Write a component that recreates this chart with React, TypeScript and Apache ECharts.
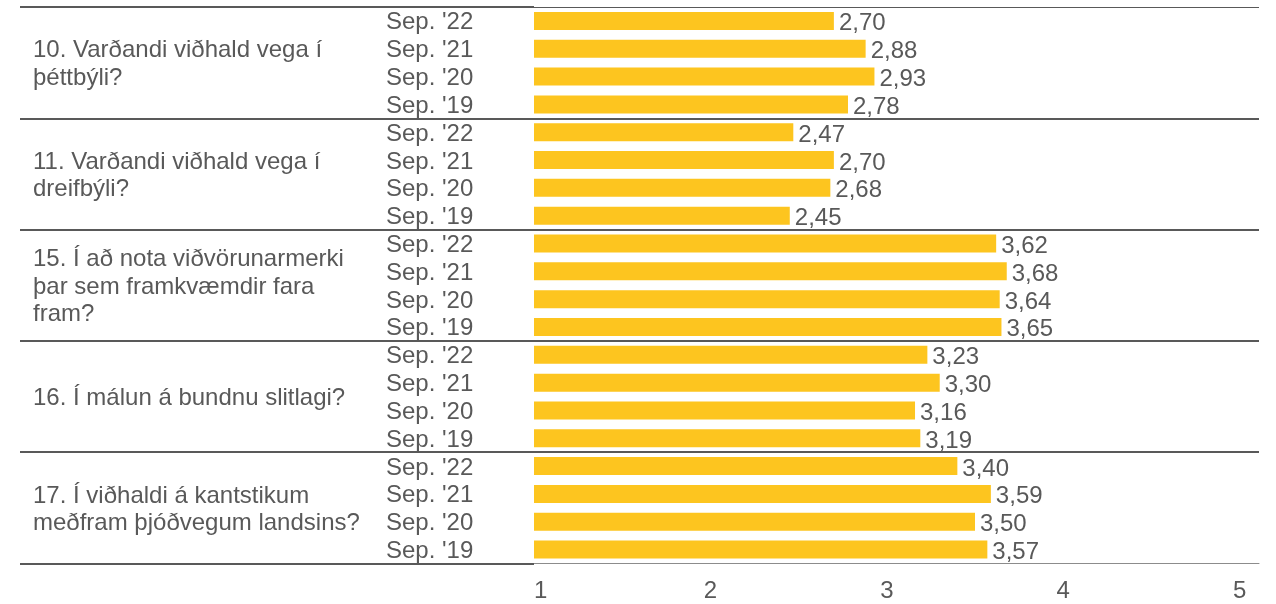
import React, { useEffect, useRef } from "react";
import * as echarts from "echarts";

const groupLabels = [
  "10. Varðandi viðhald vega í\nþéttbýli?",
  "11. Varðandi viðhald vega í\ndreifbýli?",
  "15. Í að nota viðvörunarmerki\nþar sem framkvæmdir fara\nfram?",
  "16. Í málun á bundnu slitlagi?",
  "17. Í viðhaldi á kantstikum\nmeðfram þjóðvegum landsins?",
];
const periods = ["Sep. '22", "Sep. '21", "Sep. '20", "Sep. '19"];
const q10 = [2.7, 2.88, 2.93, 2.78];
const q11 = [2.47, 2.7, 2.68, 2.45];
const q15 = [3.62, 3.68, 3.64, 3.65];
const q16 = [3.23, 3.3, 3.16, 3.19];
const q17 = [3.4, 3.59, 3.5, 3.57];
const xTicks = [1, 2, 3, 4, 5];
const separators = [1, 2, 3, 4];

const FONT = "'Liberation Sans', Arial, sans-serif";
const TEXT = "#595959";
const LINE = "#595959";
const BAR = "#FDC51F";

export default function App() {
  const ref = useRef<HTMLDivElement>(null);
  useEffect(() => {
    if (!ref.current) return;
    const chart = echarts.init(ref.current, undefined, { renderer: "svg" });
    const groups = [q10, q11, q15, q16, q17];
    const rowCats: string[] = [];
    const values: number[] = [];
    groups.forEach((g, gi) => {
      g.forEach((v, i) => {
        rowCats.push(gi + "|" + periods[i]);
        values.push(v);
      });
    });
    chart.setOption({
      animation: false,
      textStyle: { fontFamily: FONT },
      grid: { left: 534, right: 17, top: 7, height: 556.5, containLabel: false },
      xAxis: {
        type: "value",
        min: xTicks[0],
        max: 5.11,
        interval: 1,
        axisLine: {
          show: true,
          onZero: false,
          lineStyle: { color: "#8c8c8c", width: 1 },
        },
        axisTick: { show: false },
        splitLine: { show: false },
        axisLabel: {
          color: TEXT,
          fontSize: 24,
          fontFamily: FONT,
          margin: 14,
          showMaxLabel: false,
          alignMinLabel: "left",
        },
      },
      yAxis: [
        {
          type: "category",
          inverse: true,
          data: rowCats,
          axisLine: { show: false },
          axisTick: { show: false },
          splitLine: { show: false },
          axisLabel: {
            interval: 0,
            color: TEXT,
            fontSize: 24,
            fontFamily: FONT,
            align: "left",
            margin: 148,
            padding: [6, 0, 0, 0],
            formatter: (v: string) => v.split("|")[1],
          },
        },
        {
          type: "category",
          inverse: true,
          data: groupLabels,
          position: "left",
          axisLine: { show: false },
          axisTick: {
            show: true,
            length: 514,
            lineStyle: { color: LINE, width: 2 },
          },
          splitLine: { show: false },
          axisLabel: {
            interval: 0,
            color: TEXT,
            fontSize: 24,
            fontFamily: FONT,
            align: "left",
            margin: 501,
            lineHeight: 27.5,
          },
        },
        {
          type: "value",
          inverse: true,
          min: 0,
          max: 5,
          show: false,
        },
      ],
      series: [
        {
          type: "bar",
          yAxisIndex: 0,
          data: values,
          barWidth: 18,
          itemStyle: { color: BAR },
          label: {
            show: true,
            position: "right",
            distance: 5,
            offset: [0, 1],
            color: TEXT,
            fontSize: 24,
            fontFamily: FONT,
            formatter: (p: any) => p.value.toFixed(2).replace(".", ","),
          },
        },
        {
          type: "line",
          yAxisIndex: 2,
          data: [],
          silent: true,
          markLine: {
            silent: true,
            symbol: "none",
            label: { show: false },
            data: [
              ...separators.map((s) => ({
                yAxis: s,
                lineStyle: { color: LINE, width: 2, type: "solid" },
              })),
              { yAxis: 0, lineStyle: { color: LINE, width: 1, type: "solid" } },
            ],
          },
        },
      ],
    });
    return () => chart.dispose();
  }, []);
  return (
    <div
      ref={ref}
      style={{ position: "fixed", left: 0, top: 0, width: 1276, height: 604 }}
    />
  );
}
